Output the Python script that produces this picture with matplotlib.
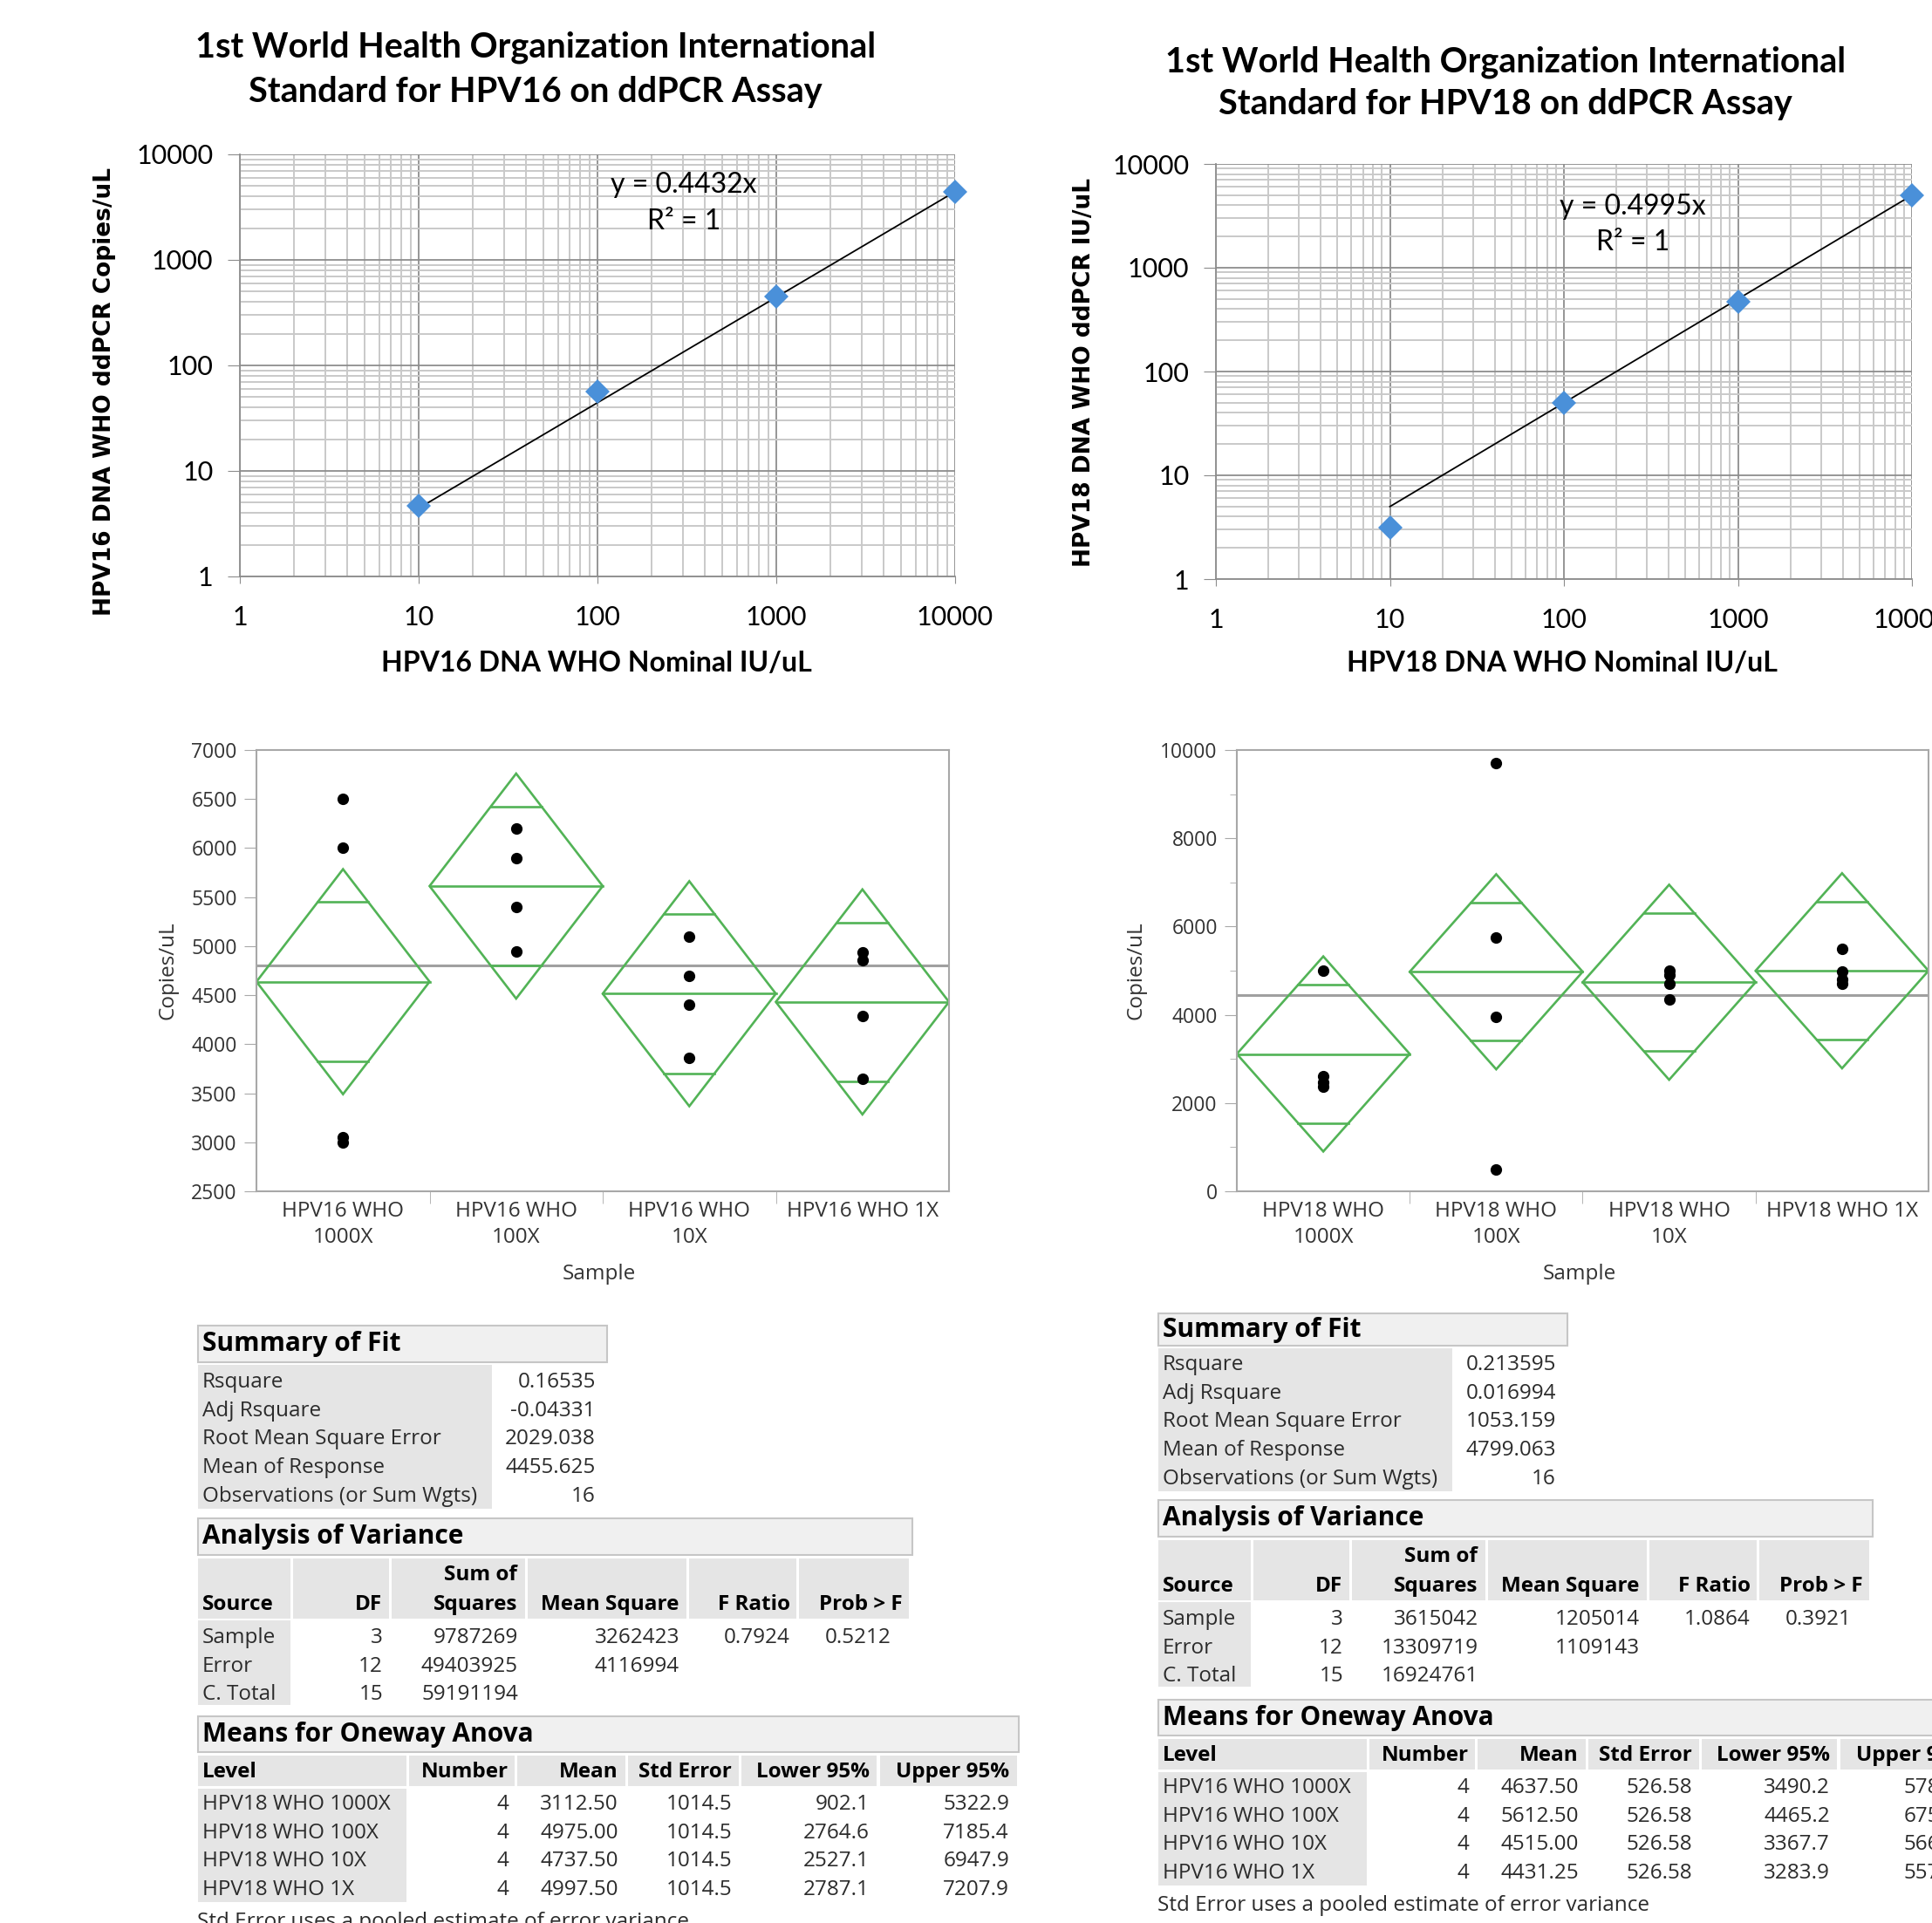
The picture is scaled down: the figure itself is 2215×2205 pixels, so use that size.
import numpy as np
import matplotlib
matplotlib.use("Agg")
import matplotlib.pyplot as plt
from matplotlib.patches import Rectangle, Polygon
from matplotlib.ticker import FixedLocator, FixedFormatter, NullFormatter

W, H = 2215, 2205

# calibration curves (top row)
nominal = [10, 100, 1000, 10000]
nominal_ticks = [1, 10, 100, 1000, 10000]
nominal_labels = ["1", "10", "100", "1000", "10000"]
hpv16_ddpcr = [4.64, 56.1, 451.5, 4431.25]
hpv18_ddpcr = [3.11, 49.75, 473.75, 4997.5]
hpv16_slope = 0.4432
hpv18_slope = 0.4995

# oneway plots (middle row)
hpv16_levels = ["HPV16 WHO\n1000X", "HPV16 WHO\n100X", "HPV16 WHO\n10X", "HPV16 WHO 1X"]
hpv18_levels = ["HPV18 WHO\n1000X", "HPV18 WHO\n100X", "HPV18 WHO\n10X", "HPV18 WHO 1X"]
hpv16_points = [[6500, 6000, 3050, 3000],
                [6200, 5900, 5400, 4950],
                [5100, 4700, 4400, 3860],
                [4935, 4855, 4285, 3650]]
hpv18_points = [[5000, 2600, 2480, 2370],
                [9700, 5750, 3950, 500],
                [5000, 4900, 4700, 4350],
                [5500, 4990, 4800, 4700]]
hpv16_means = [4637.50, 5612.50, 4515.00, 4431.25]
hpv16_lower = [3490.2, 4465.2, 3367.7, 3283.9]
hpv16_upper = [5784.8, 6759.8, 5662.3, 5578.6]
hpv16_grand = 4799.063
hpv18_means = [3112.50, 4975.00, 4737.50, 4997.50]
hpv18_lower = [902.1, 2764.6, 2527.1, 2787.1]
hpv18_upper = [5322.9, 7185.4, 6947.9, 7207.9]
hpv18_grand = 4455.625

# report tables (bottom row)
sof_labels = ["Rsquare", "Adj Rsquare", "Root Mean Square Error", "Mean of Response",
              "Observations (or Sum Wgts)"]
left_sof = ["0.16535", "-0.04331", "2029.038", "4455.625", "16"]
right_sof = ["0.213595", "0.016994", "1053.159", "4799.063", "16"]
anova_sources = ["Sample", "Error", "C. Total"]
left_anova = [["3", "9787269", "3262423", "0.7924", "0.5212"],
              ["12", "49403925", "4116994", "", ""],
              ["15", "59191194", "", "", ""]]
right_anova = [["3", "3615042", "1205014", "1.0864", "0.3921"],
               ["12", "13309719", "1109143", "", ""],
               ["15", "16924761", "", "", ""]]
left_levels = ["HPV18 WHO 1000X", "HPV18 WHO 100X", "HPV18 WHO 10X", "HPV18 WHO 1X"]
right_levels = ["HPV16 WHO 1000X", "HPV16 WHO 100X", "HPV16 WHO 10X", "HPV16 WHO 1X"]
left_se = "1014.5"
right_se = "526.58"

EXCEL = "Lato"
JMP = "Open Sans"
BLUE = "#4a90d9"
GREEN = "#52b356"

fig = plt.figure(figsize=(W / 100, H / 100), dpi=100)


def add_ax(l, t, r, b):
    return fig.add_axes([l / W, 1 - b / H, (r - l) / W, (b - t) / H])


def ft(x, y, s, **kw):
    fig.text(x / W, 1 - y / H, s, **kw)


def calib(box, ydata, slope, title_y, title_lines, xlabel, xl_pos, ylabel, yl_pos, eq_pos):
    ax = add_ax(*box)
    ax.set_xscale("log")
    ax.set_yscale("log")
    ax.set_xlim(1, 10000)
    ax.set_ylim(1, 10000)
    ax.set_axisbelow(True)
    ax.grid(which="minor", color="#c9c9c9", lw=1.4)
    ax.grid(which="major", color="#8e8e8e", lw=1.3)
    for s in ["top", "right"]:
        ax.spines[s].set_visible(False)
    for s in ["left", "bottom"]:
        ax.spines[s].set_color("#8c8c8c")
        ax.spines[s].set_linewidth(1.3)
    ax.xaxis.set_major_locator(FixedLocator(nominal_ticks))
    ax.xaxis.set_major_formatter(FixedFormatter(nominal_labels))
    ax.yaxis.set_major_locator(FixedLocator(nominal_ticks))
    ax.yaxis.set_major_formatter(FixedFormatter(nominal_labels))
    ax.xaxis.set_minor_formatter(NullFormatter())
    ax.yaxis.set_minor_formatter(NullFormatter())
    ax.tick_params(which="minor", length=0)
    ax.tick_params(axis="x", which="major", length=6, color="#8c8c8c", pad=18, labelsize=22)
    ax.tick_params(axis="y", which="major", length=10, color="#8c8c8c", pad=12, labelsize=22)
    for lab in ax.get_xticklabels() + ax.get_yticklabels():
        lab.set_fontfamily(EXCEL)
    xs = np.array([nominal[0], nominal[-1]])
    ax.plot(xs, slope * xs, color="black", lw=1.3, zorder=2)
    ax.plot(nominal, ydata, "D", color=BLUE, ms=14, mew=0, zorder=3, clip_on=False)
    ax.text(eq_pos[0], eq_pos[1], "y = %.4fx" % slope, transform=ax.transData,
            ha="center", va="center", fontsize=23, family=EXCEL)
    ax.text(eq_pos[0], eq_pos[2], "R\u00b2 = 1", transform=ax.transData,
            ha="center", va="center", fontsize=23, family=EXCEL)
    cx = title_y[2]
    ft(cx, title_y[0], title_lines[0], ha="center", va="center", fontsize=28.5,
       fontweight="bold", family=EXCEL)
    ft(cx, title_y[1], title_lines[1], ha="center", va="center", fontsize=28.5,
       fontweight="bold", family=EXCEL)
    ft(xl_pos[0], xl_pos[1], xlabel, ha="center", va="center", fontsize=23,
       fontweight="bold", family=EXCEL)
    ft(yl_pos[0], yl_pos[1], ylabel, ha="center", va="center", rotation=90,
       fontsize=19, fontweight="bold", family="DejaVu Sans")
    return ax


calib((275, 177, 1095, 661), hpv16_ddpcr, hpv16_slope, (54, 106, 614),
      ["1st World Health Organization International", "Standard for HPV16 on ddPCR Assay"],
      "HPV16 DNA WHO Nominal IU/uL", (684, 760),
      "HPV16 DNA WHO ddPCR Copies/uL", (120, 449), (304, 5140, 2312))
calib((1394, 188, 2192, 664), hpv18_ddpcr, hpv18_slope, (71, 120, 1726),
      ["1st World Health Organization International", "Standard for HPV18 on ddPCR Assay"],
      "HPV18 DNA WHO Nominal IU/uL", (1791, 760),
      "HPV18 DNA WHO ddPCR IU/uL", (1243, 427), (249, 3873, 1754))


def oneway(box, points, levels, means, lower, grand, ylim, major, minor, ylab_x):
    ax = add_ax(*box)
    ax.set_xlim(-0.5, 3.5)
    ax.set_ylim(*ylim)
    for s in ax.spines.values():
        s.set_color("#a8a8a8")
        s.set_linewidth(1.5)
    ax.axhline(grand, color="#a0a0a0", lw=2.2, zorder=1)
    k = 1 - 1 / np.sqrt(2)
    for i, (m, lo) in enumerate(zip(means, lower)):
        h = m - lo
        ax.add_patch(Polygon([(i - 0.5, m), (i, m + h), (i + 0.5, m), (i, m - h)],
                             closed=True, fill=False, ec=GREEN, lw=1.9, zorder=2))
        ax.plot([i - 0.5, i + 0.5], [m, m], color=GREEN, lw=1.9, zorder=2)
        for sgn in (1, -1):
            ax.plot([i - 0.5 * k, i + 0.5 * k], [m + sgn * h / np.sqrt(2)] * 2,
                    color=GREEN, lw=1.9, zorder=2)
        ax.plot([i] * len(points[i]), points[i], "o", color="black", ms=8.5, zorder=3)
    ax.set_yticks(major)
    ax.set_yticks(minor, minor=True)
    ax.set_xticks(range(4))
    ax.set_xticklabels(levels, family=JMP, fontsize=17.5, color="#333333",
                       va="top", linespacing=1.3)
    ax.set_xticks([0.5, 1.5, 2.5], minor=True)
    ax.tick_params(axis="x", which="major", length=0, pad=8)
    ax.tick_params(axis="x", which="minor", length=10, color="#a8a8a8")
    ax.tick_params(axis="y", which="major", length=10, color="#a8a8a8", pad=6,
                   labelsize=16.5, labelcolor="#333333")
    ax.tick_params(axis="y", which="minor", length=6, color="#a8a8a8")
    for lab in ax.get_yticklabels():
        lab.set_fontfamily(JMP)
    ft((box[0] + box[2]) / 2 - 4, 1461, "Sample", ha="center", va="center", fontsize=17.5,
       family=JMP, color="#333333")
    ft(ylab_x, 1113, "Copies/uL", ha="center", va="center", rotation=90, fontsize=17.5,
       family=JMP, color="#333333")


oneway((294, 860, 1088, 1366), hpv16_points, hpv16_levels, hpv16_means, hpv16_lower,
       hpv16_grand, (2500, 7000), range(2500, 7001, 500), [], 192)
oneway((1418, 860, 2211, 1366), hpv18_points, hpv18_levels, hpv18_means, hpv18_lower,
       hpv18_grand, (0, 10000), range(0, 10001, 2000), range(1000, 10000, 2000), 1302)

# tables drawn in pixel space
ov = fig.add_axes([0, 0, 1, 1])
ov.set_xlim(0, W)
ov.set_ylim(H, 0)
ov.axis("off")

HDR_BG = "#f0f0f0"
HDR_EC = "#c6c6c6"
CELL_BG = "#e5e5e5"
TXT = "#2b2b2b"
REG = 17.5
SEC = 21.5


def rect(x0, y0, x1, y1, fc, ec="none", lw=1.5):
    ov.add_patch(Rectangle((x0, y0), x1 - x0, y1 - y0, fc=fc, ec=ec, lw=lw, clip_on=False))


def tx(x, y, s, ha="left", bold=False, size=REG, color=TXT):
    ov.text(x, y, s, ha=ha, va="center", fontsize=size, family=JMP,
            fontweight="bold" if bold else "normal", color=color, clip_on=False)


def tables(x0, sof_top, sof_h, sof_row0, sof_vals, an_top, an_vals, mn_top,
           levels, means, se, lower, upper, foot_y):
    # Summary of Fit
    rect(x0, sof_top, x0 + 469, sof_top + sof_h, HDR_BG, HDR_EC)
    tx(x0 + 5, sof_top + sof_h / 2, "Summary of Fit", bold=True, size=SEC, color="black")
    step = 32.7
    rect(x0, sof_top + sof_h + 3, x0 + 337, sof_row0 + 4 * step + 14, CELL_BG)
    for k, (lab, val) in enumerate(zip(sof_labels, sof_vals)):
        y = sof_row0 + k * step
        tx(x0 + 5, y, lab)
        tx(x0 + 456, y, val, ha="right")

    # Analysis of Variance
    rect(x0, an_top, x0 + 819, an_top + 42, HDR_BG, HDR_EC)
    tx(x0 + 5, an_top + 21, "Analysis of Variance", bold=True, size=SEC, color="black")
    cols = [(0, 106), (109, 219), (222, 375), (378, 560), (563, 686), (689, 815)]
    for c0, c1 in cols:
        rect(x0 + c0, an_top + 46, x0 + c1, an_top + 115, CELL_BG)
    rect(x0, an_top + 117, x0 + 106, an_top + 214, CELL_BG)
    y2 = an_top + 99
    tx(x0 + 5, y2, "Source", bold=True, color="black")
    tx(x0 + 211, y2, "DF", ha="right", bold=True, color="black")
    tx(x0 + 366, an_top + 65, "Sum of", ha="right", bold=True, color="black")
    tx(x0 + 366, y2, "Squares", ha="right", bold=True, color="black")
    tx(x0 + 551, y2, "Mean Square", ha="right", bold=True, color="black")
    tx(x0 + 679, y2, "F Ratio", ha="right", bold=True, color="black")
    tx(x0 + 808, y2, "Prob > F", ha="right", bold=True, color="black")
    rights = [212, 367, 552, 679, 795]
    for r, (src, vals) in enumerate(zip(anova_sources, an_vals)):
        y = an_top + 137 + r * 32.7
        tx(x0 + 5, y, src)
        for v, rx in zip(vals, rights):
            tx(x0 + rx, y, v, ha="right")

    # Means for Oneway Anova
    rect(x0, mn_top, x0 + 941, mn_top + 41, HDR_BG, HDR_EC)
    tx(x0 + 5, mn_top + 21, "Means for Oneway Anova", bold=True, size=SEC, color="black")
    mcols = [(0, 239), (242, 363), (366, 490), (493, 620), (623, 778), (782, 939)]
    for c0, c1 in mcols:
        rect(x0 + c0, mn_top + 45, x0 + c1, mn_top + 80, CELL_BG)
    rect(x0, mn_top + 83, x0 + 239, mn_top + 213, CELL_BG)
    yh = mn_top + 64
    tx(x0 + 5, yh, "Level", bold=True, color="black")
    heads = ["Number", "Mean", "Std Error", "Lower 95%", "Upper 95%"]
    mrights = [356, 482, 612, 770, 930]
    for hd, rx in zip(heads, mrights):
        tx(x0 + rx, yh, hd, ha="right", bold=True, color="black")
    for r, lev in enumerate(levels):
        y = mn_top + 101 + r * 32.7
        tx(x0 + 5, y, lev)
        row = ["4", "%.2f" % means[r], se, "%.1f" % lower[r], "%.1f" % upper[r]]
        for v, rx in zip(row, mrights):
            tx(x0 + rx, y, v, ha="right")
    tx(x0 - 1, foot_y, "Std Error uses a pooled estimate of error variance")


tables(227, 1520, 42, 1585, left_sof, 1741, left_anova, 1968,
       left_levels, hpv18_means, left_se, hpv18_lower, hpv18_upper, 2204)
tables(1328, 1506, 37, 1565, right_sof, 1720, right_anova, 1949,
       right_levels, hpv16_means, right_se, hpv16_lower, hpv16_upper, 2185)

fig.savefig("out.png", dpi=100)
